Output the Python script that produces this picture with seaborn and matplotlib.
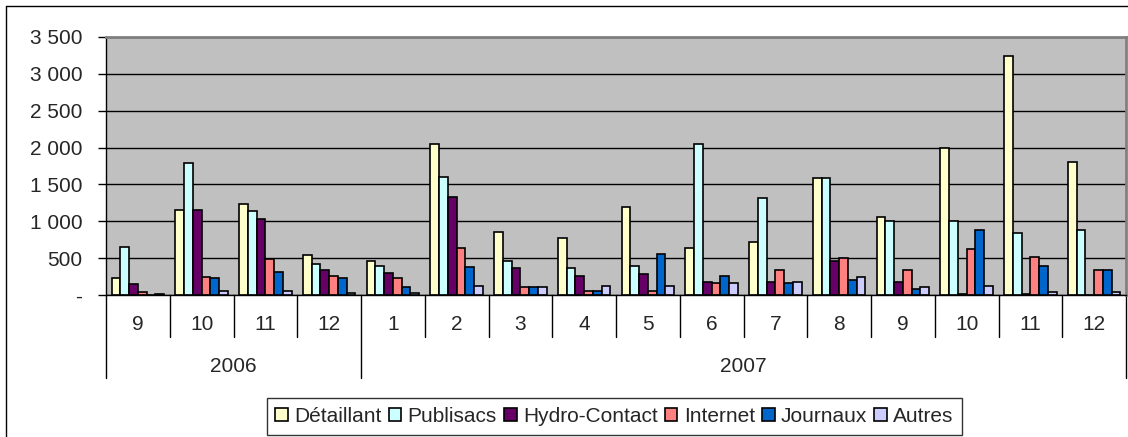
import matplotlib
matplotlib.use("Agg")
import matplotlib.pyplot as plt
from matplotlib.patches import Patch
from matplotlib.lines import Line2D
from matplotlib.ticker import FuncFormatter
import seaborn as sns
import pandas as pd

# Periods (year, month)
years = [2006] * 4 + [2007] * 12
months = [9, 10, 11, 12, 1, 2, 3, 4, 5, 6, 7, 8, 9, 10, 11, 12]

series_names = ["Détaillant", "Publisacs", "Hydro-Contact", "Internet", "Journaux", "Autres"]

detaillant = [227, 1153, 1239, 538, 461, 2049, 859, 778, 1194, 638, 719, 1592, 1054, 1995, 3248, 1809]
publisacs = [656, 1795, 1135, 416, 398, 1597, 461, 362, 398, 2053, 1312, 1592, 1000, 1000, 837, 878]
hydro_contact = [145, 1153, 1036, 339, 298, 1334, 362, 262, 281, 181, 181, 461, 181, 20, 10, 0]
internet = [45, 240, 484, 262, 227, 634, 104, 58, 58, 158, 344, 498, 344, 620, 520, 344]
journaux = [0, 227, 317, 227, 104, 380, 104, 58, 561, 262, 158, 199, 77, 878, 398, 344]
autres = [15, 58, 58, 23, 23, 122, 104, 122, 122, 158, 181, 240, 104, 122, 40, 40]

colors = ["#FFFFCC", "#CCFFFF", "#660066", "#FF8080", "#0066CC", "#CCCCFF"]

values = [detaillant, publisacs, hydro_contact, internet, journaux, autres]
periods = [f"{y}-{m:02d}" for y, m in zip(years, months)]
rows = []
for name, vals in zip(series_names, values):
    for p, v in zip(periods, vals):
        rows.append({"period": p, "serie": name, "value": v})
df = pd.DataFrame(rows)

sns.set_theme(style="white")
plt.rcParams["font.family"] = ["Liberation Sans", "DejaVu Sans"]
FS = 15

fig = plt.figure(figsize=(11.28, 4.37), dpi=100)
ax = fig.add_axes([106 / 1128, 1 - 295 / 437, 1020 / 1128, 258 / 437])
ax.set_facecolor("#C0C0C0")

sns.barplot(data=df, x="period", y="value", hue="serie", order=periods,
            hue_order=series_names, palette=colors, width=0.82,
            edgecolor="black", linewidth=1.2, ax=ax, legend=False, saturation=1)

ax.set_xlim(-0.5, len(periods) - 0.5)
ax.set_ylim(0, 3500)
ax.set_yticks(range(0, 3501, 500))
ax.yaxis.set_major_formatter(FuncFormatter(
    lambda v, _: "-" if v == 0 else f"{int(v):,}".replace(",", " ")))
ax.grid(axis="y", color="black", linewidth=1)
ax.set_axisbelow(True)
ax.set_xlabel("")
ax.set_ylabel("")
ax.set_xticks([])
ax.tick_params(axis="y", direction="out", length=6, width=1, color="black",
               labelsize=FS, pad=11, left=True)

for side in ("top", "right"):
    ax.spines[side].set_color("#808080")
    ax.spines[side].set_linewidth(2)
for side in ("left", "bottom"):
    ax.spines[side].set_color("black")
    ax.spines[side].set_linewidth(1)

# Two-level category axis: months, then years
trans = ax.get_xaxis_transform()
month_sep = 42 / 258
year_sep = 83 / 258
for i, m in enumerate(months):
    ax.text(i, -29 / 258, str(m), transform=trans, ha="center", va="center",
            fontsize=FS, clip_on=False)
for i in range(1, len(periods)):
    length = year_sep if years[i] != years[i - 1] else month_sep
    ax.add_line(Line2D([i - 0.5, i - 0.5], [0, -length], transform=trans,
                       color="black", linewidth=1, clip_on=False))
for edge in (-0.5, len(periods) - 0.5):
    ax.add_line(Line2D([edge, edge], [0, -year_sep], transform=trans,
                       color="black", linewidth=1, clip_on=False))
for y in sorted(set(years)):
    idx = [i for i, yy in enumerate(years) if yy == y]
    ax.text((idx[0] + idx[-1]) / 2, -71 / 258, str(y), transform=trans,
            ha="center", va="center", fontsize=FS, clip_on=False)

handles = [Patch(facecolor=c, edgecolor="black", linewidth=1.2) for c in colors]
leg = fig.legend(handles, series_names, loc="center",
                 bbox_to_anchor=(614.5 / 1128, 1 - 416.5 / 437), ncol=6,
                 fontsize=FS, frameon=True, fancybox=False,
                 handlelength=0.6, handleheight=0.6, handletextpad=0.3,
                 columnspacing=0.35, borderpad=0.42)
leg.get_frame().set_edgecolor("black")
leg.get_frame().set_linewidth(1)

# Chart area border
fig.add_artist(Line2D([5.5 / 1128, 1.0], [1 - 5.5 / 437, 1 - 5.5 / 437],
                      transform=fig.transFigure, color="black", linewidth=1))
fig.add_artist(Line2D([5.5 / 1128, 5.5 / 1128], [0, 1 - 5.5 / 437],
                      transform=fig.transFigure, color="black", linewidth=1))

fig.savefig("out.png", dpi=100)
